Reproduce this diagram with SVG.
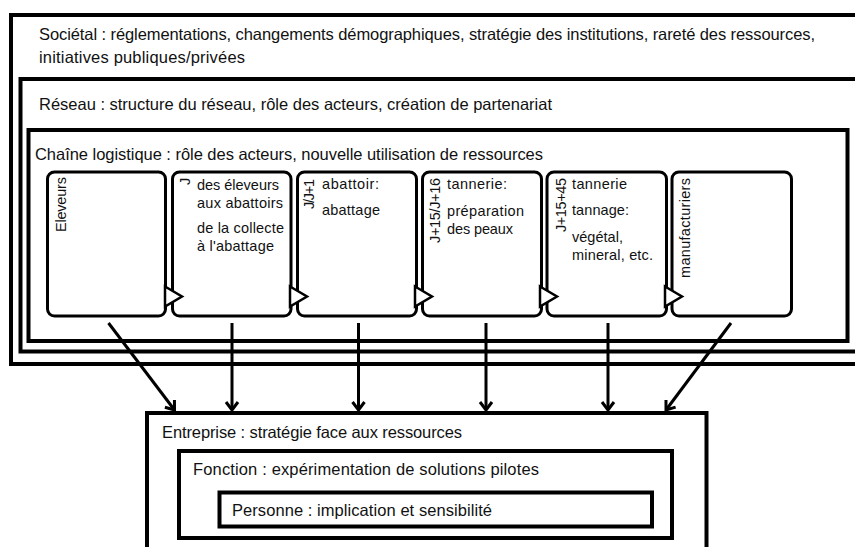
<svg xmlns="http://www.w3.org/2000/svg" width="855" height="547" viewBox="0 0 855 547">
<defs>
<style>
.box{fill:none;stroke:#000;stroke-width:4}
.card{fill:#fff;stroke:#000;stroke-width:3}
.tri{fill:#fff;stroke:#000;stroke-width:2.5}
.h{font-family:"Liberation Sans",Arial,sans-serif;font-size:16.5px;fill:#111}
.t{font-family:"Liberation Sans",Arial,sans-serif;font-size:14.5px;fill:#111}
.conn{stroke:#000;stroke-width:3;fill:none}
</style>
<marker id="arr" markerUnits="userSpaceOnUse" markerWidth="14" markerHeight="20" viewBox="-12 -10 14 20" refX="0" refY="0" orient="auto">
<path d="M-8,-6 L0,0 L-8,6" fill="none" stroke="#000" stroke-width="3"/>
</marker>
</defs>
<rect x="0" y="0" width="855" height="547" fill="#fff"/>

<g id="societal">
<rect class="box" x="11" y="15" width="870" height="349"/>
<text class="h" x="39" y="40" textLength="776">Sociétal : réglementations, changements démographiques, stratégie des institutions, rareté des ressources,</text>
<text class="h" x="39" y="63" textLength="206">initiatives publiques/privées</text>
</g>

<g id="reseau">
<rect class="box" x="20.5" y="79" width="860" height="272.5"/>
<text class="h" x="39" y="110" textLength="513">Réseau : structure du réseau, rôle des acteurs, création de partenariat</text>
</g>

<g id="chaine">
<rect class="box" x="28.5" y="130" width="819" height="211"/>
<text class="h" x="35" y="160" textLength="508">Chaîne logistique : rôle des acteurs, nouvelle utilisation de ressources</text>
</g>

<g id="card-eleveurs">
<rect class="card" x="47.5" y="172" width="118" height="144" rx="7"/>
<text class="t" transform="translate(66,232) rotate(-90)" textLength="55">Eleveurs</text>
</g>

<g id="card-collecte">
<rect class="card" x="172.5" y="172" width="118.5" height="144" rx="7"/>
<text class="t" transform="translate(190,185) rotate(-90)">J</text>
<text class="t" x="197" y="190" textLength="82">des éleveurs</text>
<text class="t" x="197" y="208" textLength="86">aux abattoirs</text>
<text class="t" x="197" y="233" textLength="87">de la collecte</text>
<text class="t" x="197" y="251" textLength="77">à l'abattage</text>
</g>

<g id="card-abattoir">
<rect class="card" x="297.5" y="172" width="119" height="144" rx="7"/>
<text class="t" transform="translate(314,209) rotate(-90)" textLength="30">J/J+1</text>
<text class="t" x="322" y="189" textLength="57">abattoir:</text>
<text class="t" x="322" y="215" textLength="58">abattage</text>
</g>

<g id="card-tannerie1">
<rect class="card" x="422.5" y="172" width="119" height="144" rx="7"/>
<text class="t" transform="translate(440,243) rotate(-90)" textLength="65">J+15/J+16</text>
<text class="t" x="447" y="189" textLength="60">tannerie:</text>
<text class="t" x="447" y="216" textLength="77">préparation</text>
<text class="t" x="447" y="234" textLength="66">des peaux</text>
</g>

<g id="card-tannerie2">
<rect class="card" x="547" y="172" width="119.5" height="144" rx="7"/>
<text class="t" transform="translate(566,232) rotate(-90)" textLength="54">J+15+45</text>
<text class="t" x="572" y="189" textLength="55">tannerie</text>
<text class="t" x="572" y="215" textLength="57">tannage:</text>
<text class="t" x="572" y="241.5" textLength="51">végétal,</text>
<text class="t" x="572" y="259.5" textLength="81">mineral, etc.</text>
</g>

<g id="card-manufacturiers">
<rect class="card" x="672" y="172" width="119.5" height="144" rx="7"/>
<text class="t" transform="translate(690,278) rotate(-90)" textLength="100">manufacturiers</text>
</g>

<g id="flow-arrows">
<polygon class="tri" points="165,286.5 182,296.5 165,306.5"/>
<polygon class="tri" points="290,286.5 307,296.5 290,306.5"/>
<polygon class="tri" points="415,286.5 432,296.5 415,306.5"/>
<polygon class="tri" points="540,286.5 557,296.5 540,306.5"/>
<polygon class="tri" points="665,286.5 682,296.5 665,306.5"/>
</g>

<g id="connectors">
<line class="conn" x1="108.5" y1="323" x2="174.5" y2="410" marker-end="url(#arr)"/>
<line class="conn" x1="232" y1="323" x2="232" y2="410" marker-end="url(#arr)"/>
<line class="conn" x1="358.5" y1="323" x2="358.5" y2="410" marker-end="url(#arr)"/>
<line class="conn" x1="486" y1="323" x2="486" y2="410" marker-end="url(#arr)"/>
<line class="conn" x1="608" y1="323" x2="608" y2="410" marker-end="url(#arr)"/>
<line class="conn" x1="731" y1="323" x2="666" y2="410" marker-end="url(#arr)"/>
</g>

<g id="entreprise">
<rect class="box" x="147" y="413" width="559.5" height="150"/>
<text class="h" x="162" y="438" textLength="300">Entreprise : stratégie face aux ressources</text>
</g>

<g id="fonction">
<rect class="box" x="179" y="451" width="493" height="87"/>
<text class="h" x="193" y="475" textLength="346">Fonction : expérimentation de solutions pilotes</text>
</g>

<g id="personne">
<rect class="box" x="219.5" y="492.5" width="432.5" height="34"/>
<text class="h" x="232" y="516" textLength="260">Personne : implication et sensibilité</text>
</g>
</svg>
